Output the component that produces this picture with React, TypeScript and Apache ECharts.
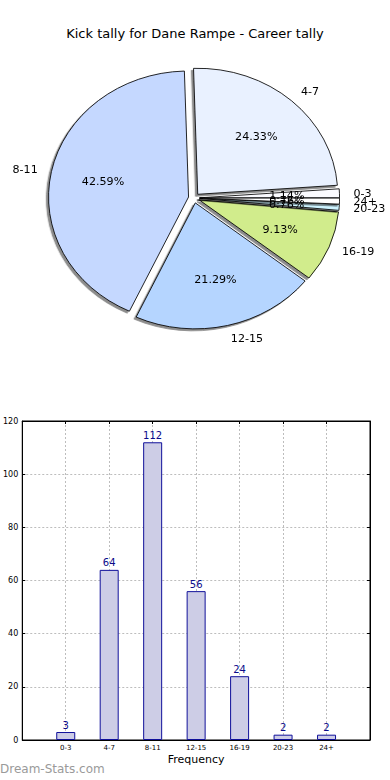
import React, { useEffect, useRef } from "react";
import * as echarts from "echarts";

const categories = ["0-3", "4-7", "8-11", "12-15", "16-19", "20-23", "24+"];
const counts = [3, 64, 112, 56, 24, 2, 2];
const sliceColors = ["#fbfbff", "#e9f1ff", "#c5d8ff", "#b5d5ff", "#d1ec8c", "#cdf3ff", "#ffffff"];
const yTicks = [0, 20, 40, 60, 80, 100, 120];
const titleText = "Kick tally for Dane Rampe - Career tally";
const xAxisName = "Frequency";
const watermark = "Dream-Stats.com";

const FONT = "DejaVu Sans";
const SX = 140 / 126; // horizontal stretch of the pie (ellipse like the original)
const R = 126;

export default function App() {
  const mainRef = useRef<HTMLDivElement>(null);
  const pieRef = useRef<HTMLDivElement>(null);

  useEffect(() => {
    document.body.style.margin = "0";
    const main = echarts.init(mainRef.current!, undefined, { renderer: "svg" });
    const pie = echarts.init(pieRef.current!, undefined, { renderer: "svg" });
    const total = counts.reduce((a, b) => a + b, 0);

    const axisCommon = {
      axisLine: { show: true, onZero: false, lineStyle: { color: "#000", width: 1 } },
      axisTick: { show: true, inside: true, length: 3, lineStyle: { color: "#000" } },
    };

    main.setOption({
      animation: false,
      textStyle: { fontFamily: FONT },
      title: {
        text: titleText,
        left: "center",
        top: 22,
        textStyle: { fontFamily: FONT, fontSize: 13, fontWeight: "normal", color: "#000" },
      },
      graphic: [
        {
          type: "text",
          left: 0,
          top: 763,
          style: { text: watermark, fontFamily: FONT, fontSize: 12, fill: "#9a9a9a" },
        },
      ],
      grid: {
        left: 19,
        right: 20,
        top: 421,
        bottom: 40,
        show: true,
        borderColor: "#000",
        borderWidth: 1,
      },
      xAxis: [
        {
          type: "value",
          min: -1,
          max: 7,
          interval: 1,
          position: "bottom",
          ...axisCommon,
          axisLabel: {
            fontSize: 7,
            color: "#000",
            margin: 4,
            formatter: (v: number) => categories[v] ?? "",
          },
          splitLine: { show: true, lineStyle: { color: "#bdbdbd", type: [2, 2], width: 1 } },
          name: xAxisName,
          nameLocation: "middle",
          nameGap: 14,
          nameTextStyle: { fontSize: 11, color: "#000", fontFamily: FONT },
        },
        {
          type: "value",
          min: -1,
          max: 7,
          interval: 1,
          position: "top",
          ...axisCommon,
          axisLabel: { show: false },
          splitLine: { show: false },
        },
      ],
      yAxis: [
        {
          type: "value",
          min: yTicks[0],
          max: yTicks[yTicks.length - 1],
          interval: 20,
          position: "left",
          ...axisCommon,
          axisLabel: { fontSize: 8, color: "#000", margin: 4 },
          splitLine: { show: true, lineStyle: { color: "#bdbdbd", type: [2, 2], width: 1 } },
        },
        {
          type: "value",
          min: yTicks[0],
          max: yTicks[yTicks.length - 1],
          interval: 20,
          position: "right",
          ...axisCommon,
          axisLabel: { show: false },
          splitLine: { show: false },
        },
      ],
      series: [
        {
          type: "bar",
          xAxisIndex: 0,
          yAxisIndex: 0,
          barWidth: 19,
          data: counts.map((v, i) => [i, v]),
          itemStyle: { color: "#cdcde6", borderColor: "#10109a", borderWidth: 1 },
          label: {
            show: true,
            position: "top",
            distance: 2,
            fontSize: 10,
            color: "#0a0a8a",
            fontFamily: FONT,
            formatter: (p: any) => String(p.value[1]),
          },
        },
      ],
    });

    const cx = 194 / SX;
    const cy = 198;
    const pieData = counts.map((v, i) => ({
      name: categories[i],
      value: v,
      selected: true,
      itemStyle: { color: sliceColors[i] },
    }));

    pie.setOption({
      animation: false,
      series: [
        {
          type: "pie",
          center: [cx, cy],
          radius: [0, R],
          startAngle: 0,
          clockwise: false,
          selectedMode: "multiple",
          selectedOffset: 5,
          avoidLabelOverlap: false,
          labelLayout: { hideOverlap: false },
          silent: true,
          data: pieData,
          itemStyle: {
            borderColor: "#000",
            borderWidth: 0.8,
            shadowColor: "rgba(0,0,0,0.45)",
            shadowBlur: 1,
            shadowOffsetX: -2,
            shadowOffsetY: 2,
          },
          label: {
            show: true,
            position: "outside",
            fontSize: 10,
            color: "#000",
            fontFamily: FONT,
            distanceToLabelLine: 0,
            formatter: "{b}",
          },
          labelLine: { show: false, length: R * 0.1, length2: 0 },
        },
        {
          type: "pie",
          center: [cx, cy],
          radius: [R * 0.2, R],
          startAngle: 0,
          clockwise: false,
          selectedMode: "multiple",
          selectedOffset: 5,
          avoidLabelOverlap: false,
          labelLayout: { hideOverlap: false },
          silent: true,
          z: 5,
          data: counts.map((v, i) => ({ name: categories[i], value: v, selected: true })),
          itemStyle: { color: "rgba(0,0,0,0)", borderWidth: 0 },
          label: {
            show: true,
            position: "inside",
            fontSize: 10,
            color: "#000",
            fontFamily: FONT,
            formatter: (p: any) => ((p.value / total) * 100).toFixed(2) + "%",
          },
          labelLine: { show: false },
        },
      ],
    });

    return () => {
      main.dispose();
      pie.dispose();
    };
  }, []);

  return (
    <div style={{ position: "fixed", left: 0, top: 0, width: 390, height: 780, background: "#fff" }}>
      <div ref={mainRef} style={{ position: "absolute", left: 0, top: 0, width: 390, height: 780 }} />
      <div
        ref={pieRef}
        style={{
          position: "absolute",
          left: 0,
          top: 0,
          width: 390 / SX,
          height: 400,
          transform: `scaleX(${SX})`,
          transformOrigin: "0 0",
          pointerEvents: "none",
        }}
      />
    </div>
  );
}
